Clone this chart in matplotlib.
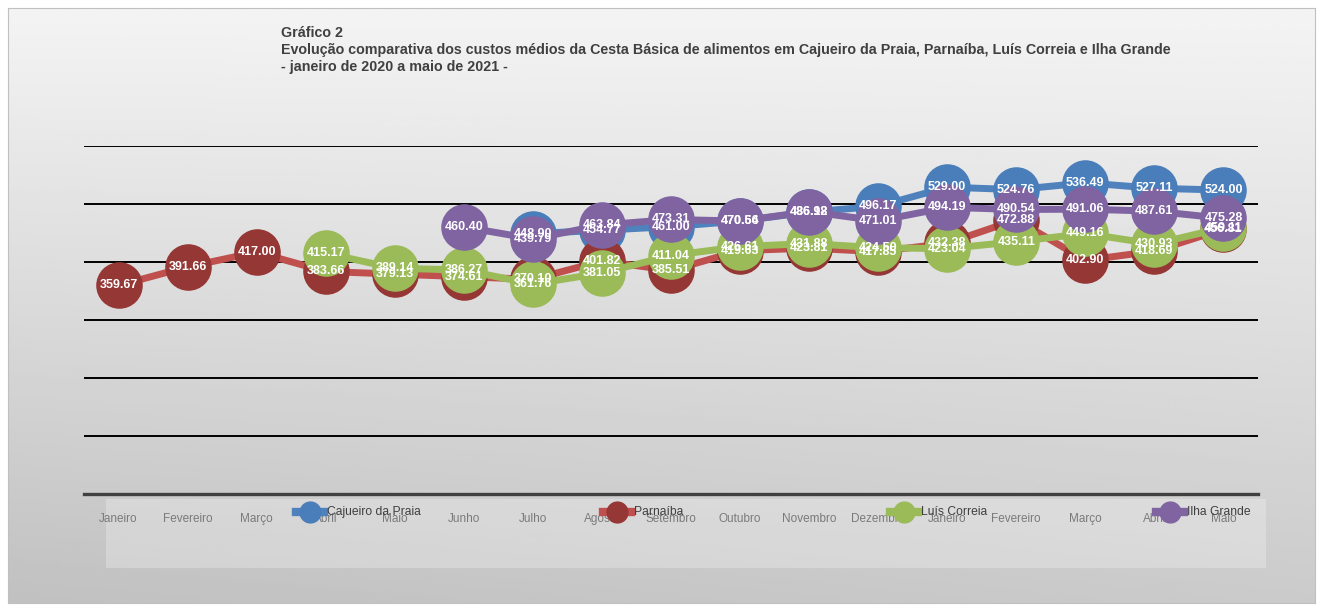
import matplotlib.pyplot as plt
import numpy as np
from matplotlib.lines import Line2D
from matplotlib.patches import Rectangle

plt.rcParams['font.family'] = ['Liberation Sans', 'DejaVu Sans']

# dados: janeiro de 2020 a maio de 2021
meses = ["Janeiro", "Fevereiro", "Março", "Abril", "Maio", "Junho", "Julho", "Agosto",
         "Setembro", "Outubro", "Novembro", "Dezembro", "Janeiro", "Fevereiro", "Março",
         "Abril", "Maio"]
nan = np.nan
cajueiro = [nan, nan, nan, nan, nan, nan, 448.90, 454.77, 461.00, 470.56, 486.12, 496.17,
            529.00, 524.76, 536.49, 527.11, 524.00]
parnaiba = [359.67, 391.66, 417.00, 383.66, 379.13, 374.61, 370.10, 401.82, 385.51, 419.63,
            423.81, 417.85, 432.38, 472.88, 402.90, 418.69, 456.81]
luis_correia = [nan, nan, nan, 415.17, 389.14, 386.27, 361.76, 381.05, 411.04, 426.61,
                431.88, 424.50, 423.04, 435.11, 449.16, 430.93, 459.11]
ilha_grande = [nan, nan, nan, nan, nan, 460.40, 439.79, 463.84, 473.31, 470.64, 486.98,
               471.01, 494.19, 490.54, 491.06, 487.61, 475.28]

series = [
    ("Cajueiro da Praia", cajueiro, "#4F81BD", "#4A7EBB"),
    ("Parnaíba", parnaiba, "#C0504D", "#953735"),
    ("Luís Correia", luis_correia, "#9BBB59", "#9BBB59"),
    ("Ilha Grande", ilha_grande, "#8064A2", "#8064A2"),
]

W, H = 1323, 611
fig = plt.figure(figsize=(W / 100, H / 100), dpi=100)
fig.patch.set_facecolor("white")

# fundo com gradiente
bg = fig.add_axes([8 / W, 8 / H, (W - 16) / W, (H - 16) / H])
yy, xx = np.mgrid[0:1:200j, 0:1:400j]
grad = 0.955 - 0.16 * yy - 0.04 * (1 - xx) * yy
bg.imshow(grad, cmap="gray", vmin=0, vmax=1, aspect="auto", extent=[0, 1, 0, 1], origin="upper")
bg.set_xticks([])
bg.set_yticks([])
for s in bg.spines.values():
    s.set_color("#c0c0c0")
    s.set_linewidth(0.8)

# caixa da legenda
bg.add_patch(Rectangle(((106 - 8) / (W - 16), 1 - (568 - 8) / (H - 16)),
                       (1266 - 106) / (W - 16), 69 / (H - 16),
                       facecolor="white", alpha=0.25, edgecolor="none"))

ax = fig.add_axes([84 / W, 1 - 494 / H, (1258 - 84) / W, (494 - 146) / H])
ax.patch.set_alpha(0)
x = np.arange(len(meses))

for nome, vals, cor_linha, cor_marc in series:
    v = np.array(vals, dtype=float)
    ax.plot(x, v, color=cor_linha, lw=5, solid_capstyle="round", zorder=3, clip_on=False)
    ax.plot(x, v, ls="none", marker="o", ms=32.5, color=cor_marc, mec=cor_marc, zorder=3,
            clip_on=False)

for nome, vals, cor_linha, cor_marc in series:
    for i, val in enumerate(vals):
        if not np.isnan(val):
            ax.text(i, val, f"{val:.2f}", ha="center", va="center", color="white",
                    fontsize=9, fontweight="bold", zorder=10)

ax.set_xlim(-0.5, len(meses) - 0.5)
ax.set_ylim(0, 600)
ax.set_yticks(np.arange(100, 601, 100))
ax.yaxis.grid(True, color="black", lw=1.4)
ax.set_axisbelow(True)
ax.tick_params(axis="y", length=0, labelleft=False)
ax.set_xticks(x)
ax.set_xticklabels(meses, fontsize=8.5, color="#7a7a7a")
ax.tick_params(axis="x", length=0, pad=14)
for s in ["top", "left", "right"]:
    ax.spines[s].set_visible(False)
ax.spines["bottom"].set_color("#404040")
ax.spines["bottom"].set_linewidth(2.4)

# legenda
leg_x = [310, 617, 904, 1170]
for (nome, vals, cor_linha, cor_marc), lx in zip(series, leg_x):
    fig.add_artist(Line2D([(lx - 14) / W, (lx + 14) / W], [1 - 512 / H] * 2, color=cor_linha,
                          lw=6, transform=fig.transFigure))
    fig.add_artist(Line2D([lx / W], [1 - 512 / H], marker="o", ms=15, color=cor_marc,
                          transform=fig.transFigure))
    fig.text((lx + 17) / W, 1 - 512 / H, nome, fontsize=8.7, color="#404040", va="center")

# título
titulo = ["Gráfico 2",
          "Evolução comparativa dos custos médios da Cesta Básica de alimentos em Cajueiro da Praia, Parnaíba, Luís Correia e Ilha Grande",
          "- janeiro de 2020 a maio de 2021 -"]
for linha, ypx in zip(titulo, [33, 50, 67]):
    fig.text(281 / W, 1 - ypx / H, linha, fontsize=10.3, fontweight="bold", color="#404040",
             va="center")

fig.savefig("out.png", dpi=100)
